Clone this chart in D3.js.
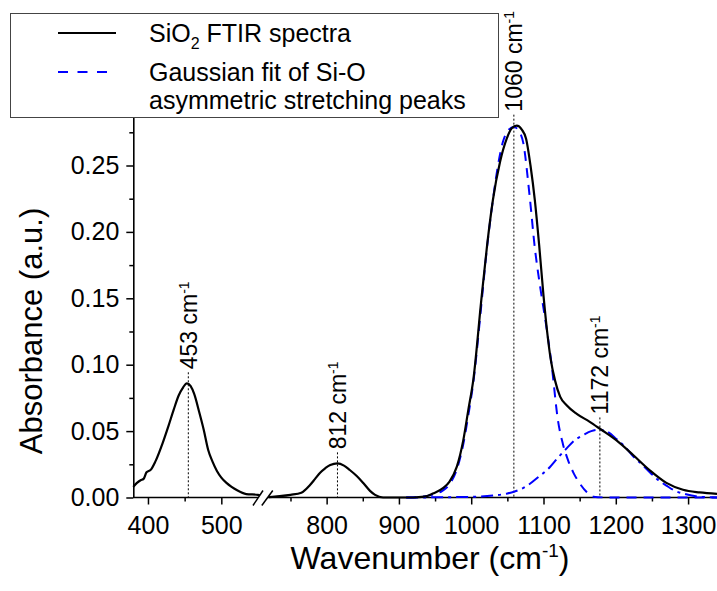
<!DOCTYPE html>
<meta charset="utf-8">
<script src="https://d3js.org/d3.v7.min.js"></script>
<style>
  body { margin: 0; background: #fff; }
  text { font-family: "Liberation Sans", Arial, sans-serif; fill: #000; }
</style>
<body>
<div id="chart"></div>
<script>

// spectrum (wavenumber, absorbance)
var specX = [380, 385, 390, 394, 398, 404, 410, 420, 428, 435, 442, 448, 453, 458, 463, 470, 476, 482, 488, 494, 500, 507, 514, 521, 534, 550,
             720, 735, 750, 765, 777, 784, 791, 798, 805, 815, 824, 832, 842, 851, 860, 867, 878, 900, 920,
             935, 947, 961, 970, 980, 989, 996, 1003, 1014, 1022, 1030, 1040, 1049, 1056, 1063, 1070, 1076, 1082, 1088, 1094, 1100,
             1105, 1110, 1116, 1123, 1132, 1146, 1164, 1180, 1201, 1224, 1247, 1270, 1293, 1316, 1340]
var specY = [0.008, 0.011, 0.013, 0.014, 0.019, 0.021, 0.027, 0.041, 0.054, 0.066, 0.077, 0.083, 0.086, 0.084, 0.078, 0.064, 0.051, 0.036, 0.027, 0.020, 0.015, 0.011, 0.008, 0.0056, 0.0026, 0.002,
             0.0003, 0.001, 0.002, 0.0036, 0.0094, 0.014, 0.0187, 0.022, 0.0245, 0.0257, 0.024, 0.0207, 0.016, 0.0107, 0.005, 0.002, 0, 0, 0,
             0.0006, 0.003, 0.007, 0.012, 0.023, 0.043, 0.066, 0.089, 0.149, 0.190, 0.224, 0.253, 0.270, 0.278, 0.280, 0.277, 0.270, 0.250, 0.224, 0.190, 0.152,
             0.125, 0.104, 0.088, 0.076, 0.0695, 0.063, 0.057, 0.051, 0.043, 0.032, 0.0205, 0.011, 0.0058, 0.0038, 0.0027]

// gaussian fit, main Si-O peak (dashed)
var fit1X = [910, 930, 945, 960, 970, 980, 989, 996, 1003, 1014, 1021, 1030, 1037, 1044, 1052, 1059, 1066, 1072, 1081, 1088, 1095, 1103,
             1111, 1120, 1127, 1134, 1142, 1150, 1160, 1169, 1190, 1340]
var fit1Y = [0, 0.0005, 0.002, 0.005, 0.010, 0.021, 0.040, 0.062, 0.087, 0.145, 0.184, 0.224, 0.250, 0.268, 0.277, 0.279, 0.276, 0.267, 0.226, 0.188, 0.160, 0.132,
             0.101, 0.058, 0.040, 0.028, 0.018, 0.0107, 0.004, 0.0006, 0, 0]

// gaussian fit, shoulder (dash-dot)
var fit2X = [910, 1000, 1030, 1050, 1060, 1077, 1092, 1109, 1120, 1132, 1143, 1155, 1166, 1178, 1190, 1201, 1213, 1224, 1236, 1247, 1259, 1270, 1282, 1293, 1305, 1316, 1340]
var fit2Y = [0, 0.0005, 0.0015, 0.003, 0.0045, 0.0087, 0.015, 0.023, 0.030, 0.037, 0.043, 0.047, 0.050, 0.051, 0.049, 0.044, 0.038, 0.031, 0.025, 0.019, 0.013, 0.009, 0.005, 0.003, 0.0015, 0.0006, 0]

// peak markers
var peakLabels = ["453", "812", "1060", "1172"]
var peakPos = [455, 815, 1059, 1178]
var peakHeight = [0.086, 0.0257, 0.280, 0.052]

var xTicks = [400, 500, 800, 900, 1000, 1100, 1200, 1300]
var xMinor = [450, 750, 850, 950, 1050, 1150, 1250]
var yTicks = [0, 0.05, 0.10, 0.15, 0.20, 0.25]
var yMinor = [0.025, 0.075, 0.125, 0.175, 0.225, 0.275]

var width = 717, height = 591
var svg = d3.select("#chart").append("svg")
    .attr("width", width)
    .attr("height", height)

// broken x axis: two segments
var x = d3.scaleLinear()
    .domain([380, 550, 720, 1340])
    .range([133.3, 258, 268.8, 717])
var y = d3.scaleLinear()
    .domain([0, 0.3])
    .range([497.5, 99.1])

var toPts = function(xs, ys) { return xs.map(function(d, i) { return [d, ys[i]] }) }
var line = d3.line()
    .x(function(d) { return x(d[0]) })
    .y(function(d) { return y(d[1]) })
    .curve(d3.curveMonotoneX)

// y axis
var yAxis = svg.append("g")
    .attr("transform", "translate(" + x(380) + ",0)")
    .call(d3.axisLeft(y).tickValues(yTicks).tickFormat(d3.format(".2f")).tickSize(7).tickPadding(7).tickSizeOuter(0))
yAxis.selectAll("text").style("font-size", "25px").attr("font-family", null)
svg.append("g")
    .attr("transform", "translate(" + x(380) + ",0)")
    .call(d3.axisLeft(y).tickValues(yMinor).tickFormat("").tickSize(4).tickSizeOuter(0))
    .select(".domain").remove()

// x axis
var xAxis = svg.append("g")
    .attr("transform", "translate(0," + y(0) + ")")
    .call(d3.axisBottom(x).tickValues(xTicks).tickFormat(d3.format("d")).tickSize(7).tickPadding(12))
xAxis.select(".domain").remove()
xAxis.selectAll("text").style("font-size", "25px").attr("font-family", null)
svg.append("g")
    .attr("transform", "translate(0," + y(0) + ")")
    .call(d3.axisBottom(x).tickValues(xMinor).tickFormat("").tickSize(4))
    .select(".domain").remove()

svg.selectAll(".tick line").attr("stroke-width", 1.5)
yAxis.select(".domain").attr("stroke-width", 1.6)

var segs = [[380, 550], [720, 1340]]
svg.selectAll(".xseg")
  .data(segs)
  .enter()
  .append("line")
    .attr("x1", function(d) { return x(d[0]) })
    .attr("x2", function(d) { return x(d[1]) })
    .attr("y1", y(0))
    .attr("y2", y(0))
    .attr("stroke", "#000")
    .attr("stroke-width", 1.6)

// peak guide lines
svg.selectAll(".guide")
  .data(peakPos)
  .enter()
  .append("line")
    .attr("x1", function(d) { return x(d) })
    .attr("x2", function(d) { return x(d) })
    .attr("y1", function(d, i) { return y(peakHeight[i]) - 11 })
    .attr("y2", y(0))
    .attr("stroke", "#000")
    .attr("stroke-width", 1)
    .attr("stroke-dasharray", "2,2")

// curves
svg.append("path")
    .datum(toPts(fit2X, fit2Y))
    .attr("d", line)
    .attr("fill", "none")
    .attr("stroke", "#0000ff")
    .attr("stroke-width", 2)
    .attr("stroke-dasharray", "12,5,3,5")
svg.append("path")
    .datum(toPts(fit1X, fit1Y))
    .attr("d", line)
    .attr("fill", "none")
    .attr("stroke", "#0000ff")
    .attr("stroke-width", 2)
    .attr("stroke-dasharray", "10,7")
svg.append("path")
    .datum(toPts(specX, specY))
    .attr("d", line)
    .attr("fill", "none")
    .attr("stroke", "#000")
    .attr("stroke-width", 2.2)

// axis break marks
var by = y(0)
svg.append("polygon")
    .attr("points", [[x(550) - 5, by + 8], [x(550) + 5, by - 7], [x(720) + 4, by - 7], [x(720) - 7, by + 8]].join(" "))
    .attr("fill", "#fff")
svg.selectAll(".brk")
  .data([[x(550) - 5, x(550) + 5], [x(720) - 7, x(720) + 4]])
  .enter()
  .append("line")
    .attr("x1", function(d) { return d[0] })
    .attr("x2", function(d) { return d[1] })
    .attr("y1", by + 8)
    .attr("y2", by - 7)
    .attr("stroke", "#000")
    .attr("stroke-width", 1.5)

// peak labels
var lab = svg.selectAll(".plab")
  .data(peakPos)
  .enter()
  .append("text")
    .attr("transform", function(d, i) { return "translate(" + x(d) + "," + (y(peakHeight[i]) - 14) + ") rotate(-90)" })
    .attr("dy", "0.36em")
    .style("font-size", "23px")
lab.append("tspan").text(function(d, i) { return peakLabels[i] + " cm" })
lab.append("tspan").attr("dy", "-0.55em").style("font-size", "14px").text("-1")

// axis titles
var yt = svg.append("text")
    .attr("transform", "translate(42,331) rotate(-90)")
    .attr("text-anchor", "middle")
    .style("font-size", "31px")
    .text("Absorbance (a.u.)")

var xt = svg.append("text")
    .attr("x", 430)
    .attr("y", 569)
    .attr("text-anchor", "middle")
    .style("font-size", "32px")
xt.append("tspan").text("Wavenumber (cm")
xt.append("tspan").attr("dy", -12).style("font-size", "19px").text("-1")
xt.append("tspan").attr("dy", 12).text(")")

// legend
var lg = svg.append("g")
lg.append("rect")
    .attr("x", 10.5).attr("y", 13.5)
    .attr("width", 488).attr("height", 104)
    .attr("fill", "#fff")
    .attr("stroke", "#444")
    .attr("stroke-width", 1)
lg.append("line")
    .attr("x1", 58).attr("x2", 116).attr("y1", 33).attr("y2", 33)
    .attr("stroke", "#000").attr("stroke-width", 2.2)
lg.append("line")
    .attr("x1", 58).attr("x2", 107).attr("y1", 72).attr("y2", 72)
    .attr("stroke", "#0000ff").attr("stroke-width", 2)
    .attr("stroke-dasharray", "10,9.5")
var t1 = lg.append("text").attr("x", 149).attr("y", 42).style("font-size", "25px")
t1.append("tspan").text("SiO")
t1.append("tspan").attr("dy", 7).style("font-size", "16px").text("2")
t1.append("tspan").attr("dy", -7).text(" FTIR spectra")
lg.append("text").attr("x", 149).attr("y", 81).style("font-size", "25px").text("Gaussian fit of Si-O")
lg.append("text").attr("x", 149).attr("y", 109).style("font-size", "25px").text("asymmetric stretching peaks")

</script>
</body>
